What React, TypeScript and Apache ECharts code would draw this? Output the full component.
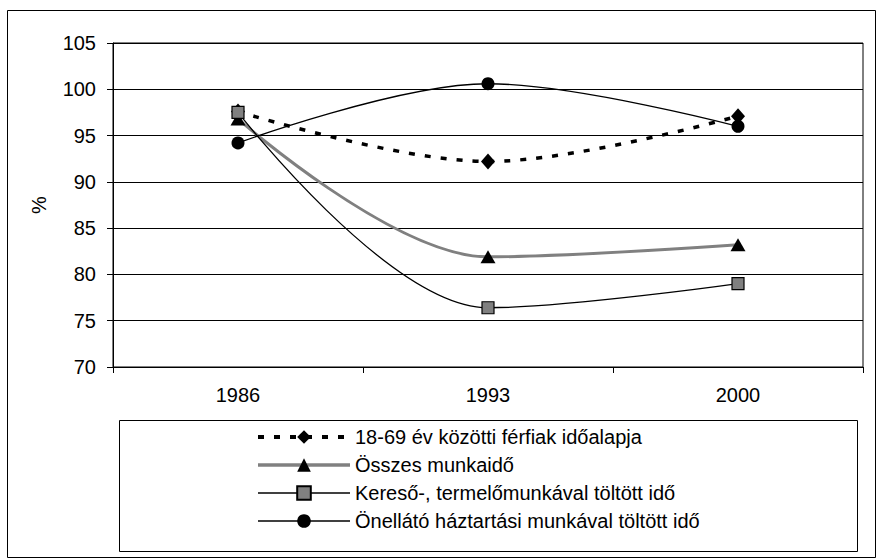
import React, { useEffect, useRef } from "react";
import * as echarts from "echarts";

const categories = ["1986", "1993", "2000"];
const seriesNames = [
  "18-69 év közötti férfiak időalapja",
  "Összes munkaidő",
  "Kereső-, termelőmunkával töltött idő",
  "Önellátó háztartási munkával töltött idő",
];
const ferfiakIdoalap = [97.6, 92.2, 97.1];
const osszesMunkaido = [96.8, 81.9, 83.2];
const keresoMunka = [97.5, 76.4, 79.0];
const onellatoMunka = [94.2, 100.6, 96.0];
const yTicks = { min: 70, max: 105, interval: 5 };

const FONT = "Liberation Sans, Arial, sans-serif";
const FS = 20;

export default function App() {
  const ref = useRef<HTMLDivElement>(null);
  useEffect(() => {
    if (!ref.current) return;
    const chart = echarts.init(ref.current, undefined, { renderer: "svg" });
    chart.setOption({
      animation: false,
      backgroundColor: "#fff",
      textStyle: { fontFamily: FONT, color: "#000" },
      grid: {
        left: 113,
        top: 43,
        right: 14,
        bottom: 192,
        show: true,
        borderColor: "#000",
        borderWidth: 1,
      },
      xAxis: {
        type: "category",
        data: categories,
        boundaryGap: true,
        axisLine: { lineStyle: { color: "#000", width: 1 } },
        axisTick: { show: true, length: 6, inside: false, lineStyle: { color: "#000" } },
        axisLabel: { color: "#000", fontSize: FS, fontFamily: FONT, margin: 18 },
      },
      yAxis: {
        type: "value",
        min: yTicks.min,
        max: yTicks.max,
        interval: yTicks.interval,
        name: "%",
        nameLocation: "middle",
        nameGap: 64,
        nameRotate: 90,
        nameTextStyle: { color: "#000", fontSize: FS, fontFamily: FONT },
        axisLine: { show: true, lineStyle: { color: "#000", width: 1 } },
        axisTick: { show: true, length: 6, lineStyle: { color: "#000" } },
        axisLabel: { color: "#000", fontSize: FS, fontFamily: FONT, margin: 17 },
        splitLine: { show: true, lineStyle: { color: "#000", width: 1 } },
      },
      legend: {
        orient: "vertical",
        left: 256,
        top: 427,
        itemWidth: 92,
        itemHeight: 17,
        itemGap: 8,
        padding: 0,
        textStyle: { color: "#000", fontSize: FS, fontFamily: FONT },
        data: [
          { name: seriesNames[0], lineStyle: { width: 4 } },
          { name: seriesNames[1], lineStyle: { width: 3.5 } },
          { name: seriesNames[2], lineStyle: { width: 1.3 } },
          { name: seriesNames[3], lineStyle: { width: 1.3 } },
        ],
      },
      graphic: [
        {
          type: "rect",
          shape: { x: 7.5, y: 10.5, width: 868, height: 547 },
          style: { fill: "none", stroke: "#000", lineWidth: 1 },
          silent: true,
          z: 100,
        },
        {
          type: "rect",
          shape: { x: 119.5, y: 420.5, width: 738, height: 131 },
          style: { fill: "none", stroke: "#000", lineWidth: 1 },
          silent: true,
          z: 100,
        },
      ],
      series: [
        {
          name: seriesNames[0],
          type: "line",
          data: ferfiakIdoalap,
          smooth: 0.35,
          symbol: "diamond",
          symbolSize: [14, 16],
          itemStyle: { color: "#000" },
          lineStyle: { color: "#000", width: 3.5, type: [6, 10] },
        },
        {
          name: seriesNames[1],
          type: "line",
          data: osszesMunkaido,
          smooth: 0.35,
          symbol: "triangle",
          symbolSize: [15, 13],
          itemStyle: { color: "#000" },
          lineStyle: { color: "#808080", width: 3 },
        },
        {
          name: seriesNames[2],
          type: "line",
          data: keresoMunka,
          smooth: 0.35,
          symbol: "rect",
          symbolSize: 12,
          itemStyle: { color: "#808080", borderColor: "#000", borderWidth: 1.2 },
          lineStyle: { color: "#000", width: 1.3 },
        },
        {
          name: seriesNames[3],
          type: "line",
          data: onellatoMunka,
          smooth: 0.35,
          symbol: "circle",
          symbolSize: 13,
          itemStyle: { color: "#000" },
          lineStyle: { color: "#000", width: 1.3 },
        },
      ],
    });
    return () => chart.dispose();
  }, []);
  return (
    <div
      ref={ref}
      style={{ position: "fixed", left: 0, top: 0, width: 877, height: 559 }}
    />
  );
}
